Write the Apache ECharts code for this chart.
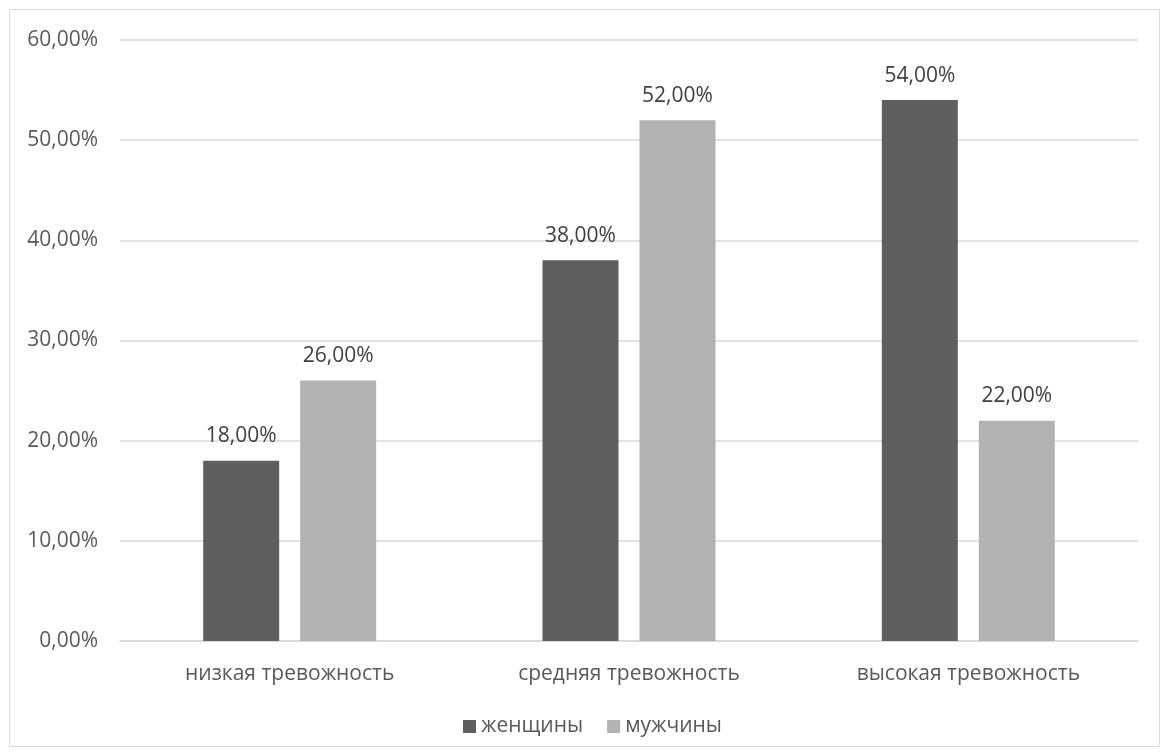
<!DOCTYPE html>
<html>
<head>
<meta charset="utf-8">
<script src="https://cdn.jsdelivr.net/npm/echarts@6/dist/echarts.min.js"></script>
<style>
  html, body { margin: 0; padding: 0; background: #fff; }
  #chart { width: 1168px; height: 755px; }
</style>
</head>
<body>
<div id="chart"></div>
<script>
// Уровни тревожности и доли (%) по полу
const categories = ['низкая тревожность', 'средняя тревожность', 'высокая тревожность'];
const women = [18, 38, 54];
const men = [26, 52, 22];
const yTicks = [0, 10, 20, 30, 40, 50, 60];

const axisTextColor = '#595959';
const valueTextColor = '#404040';
const fontFamily = '"Open Sans", "Noto Sans", sans-serif';
const fontSize = 21;
const pct = v => v.toFixed(2).replace('.', ',') + '%';

const chart = echarts.init(document.getElementById('chart'), null, { renderer: 'canvas' });

const labelStyle = {
  show: true,
  position: 'top',
  distance: 14,
  color: valueTextColor,
  fontSize: fontSize,
  fontFamily: fontFamily,
  formatter: p => pct(p.value)
};

chart.setOption({
  backgroundColor: '#ffffff',
  animation: false,
  graphic: [{
    type: 'rect',
    shape: { x: 9.5, y: 9.5, width: 1150, height: 737 },
    style: { fill: 'none', stroke: '#d9d9d9', lineWidth: 1 },
    silent: true
  }],
  grid: { left: 120, right: 30, top: 40, bottom: 114, containLabel: false },
  legend: {
    bottom: 13,
    left: 458,
    itemWidth: 13,
    itemHeight: 13,
    itemGap: 24,
    icon: 'rect',
    textStyle: { color: axisTextColor, fontSize: fontSize, fontFamily: fontFamily },
    data: ['женщины', 'мужчины']
  },
  xAxis: {
    type: 'category',
    data: categories,
    axisLine: { show: true, lineStyle: { color: '#d9d9d9', width: 1.5 } },
    axisTick: { show: false },
    axisLabel: { color: axisTextColor, fontSize: fontSize, fontFamily: fontFamily, margin: 23 }
  },
  yAxis: {
    type: 'value',
    min: yTicks[0],
    max: yTicks[yTicks.length - 1],
    interval: 10,
    axisLine: { show: false },
    axisTick: { show: false },
    splitLine: { lineStyle: { color: '#d9d9d9', width: 1.5 } },
    axisLabel: { color: axisTextColor, fontSize: fontSize, fontFamily: fontFamily, margin: 22, formatter: v => pct(v) }
  },
  series: [
    {
      name: 'женщины',
      type: 'bar',
      data: women,
      barWidth: 76,
      barGap: '27.6%',
      itemStyle: { color: '#5f5f5f' },
      label: labelStyle
    },
    {
      name: 'мужчины',
      type: 'bar',
      data: men,
      barWidth: 76,
      itemStyle: { color: '#b2b2b2' },
      label: labelStyle
    }
  ]
});
</script>
</body>
</html>
